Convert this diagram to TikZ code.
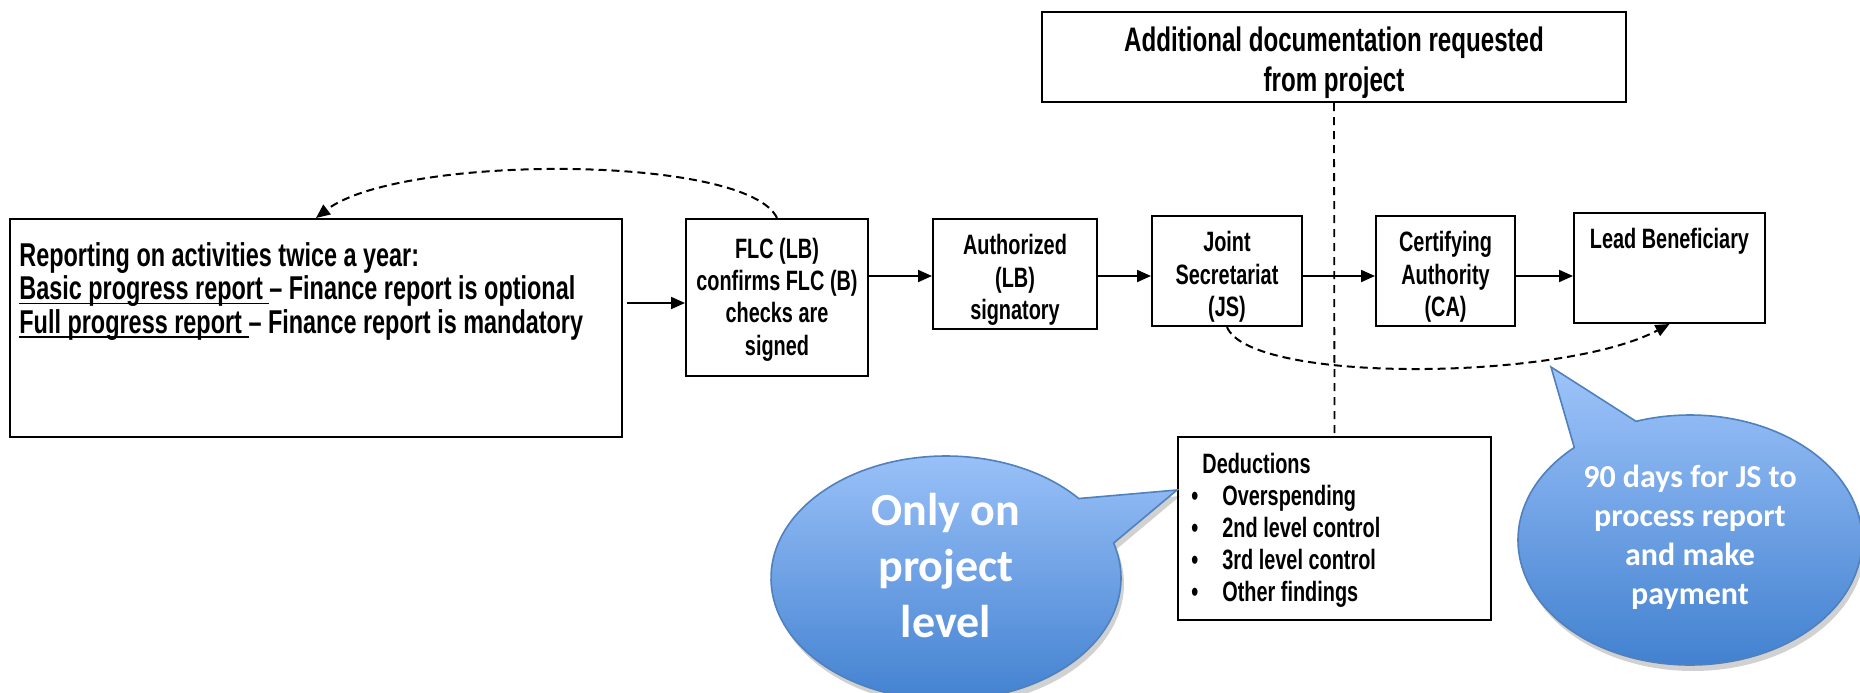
\documentclass[tikz,border=0pt]{standalone}
\usepackage{fontspec}
\setmainfont{Liberation Sans}[UprightFont={* Bold}, FakeStretch=0.71]
\newfontfamily\callfont{Carlito}
\usetikzlibrary{shapes.callouts,arrows.meta,shadows}
\definecolor{bubtop}{RGB}{158,196,250}
\definecolor{bubbot}{RGB}{62,126,206}
\definecolor{bubline}{RGB}{79,129,189}
\newcommand{\ulx}[1]{\setbox0\hbox{#1}\rlap{\rule[-2.2pt]{\wd0}{0.75pt}}\box0}
\begin{document}
\begin{tikzpicture}[x=0.5pt,y=-0.5pt,
  box/.style={draw, line width=1pt, inner sep=0pt},
  boxtext/.style={inner sep=0pt, align=center, font=\fontsize{14}{16.2}\selectfont},
  plain/.style={inner sep=0pt, align=left},
  arr/.style={line width=1pt, -{Triangle[length=7pt,width=6pt]}},
  dsharr/.style={line width=1pt, dash pattern=on 4pt off 2.5pt, -{Triangle[length=7pt,width=6pt]}},
  dshline/.style={line width=0.9pt, dash pattern=on 4pt off 3pt},
  bubble/.style={ellipse callout, draw=bubline, line width=0.8pt, top color=bubtop, bottom color=bubbot,
    inner sep=0pt, callout pointer arc=24,
    drop shadow={shadow xshift=1.5pt, shadow yshift=-3pt, opacity=0.18, fill=black}},
  bubtext/.style={inner sep=0pt, align=center, text=white}
]
\fill[white] (0,0) rectangle (1860,692);
\useasboundingbox (0,0) rectangle (1860,692);

% boxes
\node[box, minimum width=306pt, minimum height=109pt] (big) at (316,328) {};
\node[box, minimum width=91pt, minimum height=78.5pt] (flc) at (777,297.5) {};
\node[box, minimum width=82pt, minimum height=55pt] (auth) at (1015,274) {};
\node[box, minimum width=75pt, minimum height=55pt] (js) at (1227,271) {};
\node[box, minimum width=69.5pt, minimum height=55pt] (ca) at (1445.5,271) {};
\node[box, minimum width=95.5pt, minimum height=55pt] (lb) at (1669.5,268) {};
\node[box, minimum width=292pt, minimum height=45pt] (add) at (1334,57) {};
\node[box, minimum width=156.5pt, minimum height=91.5pt] (ded) at (1334.5,528.5) {};

% texts inside boxes
\node[plain, anchor=north west, font=\fontsize{16.5}{16.8}\selectfont] (bigtxt) at (19,242)
  {Reporting on activities twice a year:\\
   \ulx{Basic progress report\ }– Finance report is optional\\
   \ulx{Full progress report\ }– Finance report is mandatory};
\node[boxtext] (flctxt) at ([yshift=-1pt]flc.center) {FLC (LB)\\confirms FLC (B)\\checks are\\signed};
\node[boxtext] (authtxt) at ([yshift=-3pt]auth.center) {Authorized\\(LB)\\signatory};
\node[boxtext] (jstxt) at ([yshift=-3pt]js.center) {Joint\\Secretariat\\(JS)};
\node[boxtext] (catxt) at ([yshift=-3pt]ca.center) {Certifying\\Authority\\(CA)};
\node[boxtext, anchor=north] (lbtxt) at ([yshift=-8pt]lb.north) {Lead Beneficiary};
\node[boxtext, font=\fontsize{17}{20}\selectfont] (addtxt) at ([yshift=-3pt]add.center) {Additional documentation requested\\from project};
\node[plain, anchor=north west, font=\fontsize{14}{16}\selectfont] (dedtxt) at (1191,453)
  {\hspace*{5.5pt}Deductions\\
   \makebox[15.5pt][l]{•}Overspending\\
   \makebox[15.5pt][l]{•}2nd level control\\
   \makebox[15.5pt][l]{•}3rd level control\\
   \makebox[15.5pt][l]{•}Other findings};

% helper levels
\coordinate (ay) at (0,276);
\coordinate (by) at (0,303);

% dashed vertical connector
\draw[dshline] (add.south) -- (ded.north);

% main arrows
\draw[arr] ([xshift=2pt]big.east |- by) -- (flc.west |- by);
\draw[arr] (flc.east |- ay) -- (auth.west |- ay);
\draw[arr] (auth.east |- ay) -- (js.west |- ay);
\draw[arr] (js.east |- ay) -- (ca.west |- ay);
\draw[arr] (ca.east |- ay) -- (lb.west |- ay);

% dashed curves
\draw[dsharr] (flc.north) .. controls +(-30,-64) and +(83,-64) .. (big.north);
\draw[dsharr] (js.south) .. controls +(23,57) and +(-107,57) .. (lb.south);

% callouts
\coordinate (ptL) at (1177,490);
\coordinate (ptR) at (1551,367);
\node[bubble, minimum width=175pt, minimum height=122pt, callout absolute pointer={(ptL)}] (cl) at (946,578) {};
\node[bubtext, font=\callfont\bfseries\fontsize{23}{28}\selectfont] (cltxt) at (946,566) {Only on\\project\\level};
\node[bubble, minimum width=172pt, minimum height=125pt, callout absolute pointer={(ptR)}] (cr) at (1690,540) {};
\node[bubtext, font=\callfont\bfseries\fontsize{16}{19.5}\selectfont] (crtxt) at (1690,537) {90 days for JS to\\process report\\and make\\payment};
\end{tikzpicture}
\end{document}
